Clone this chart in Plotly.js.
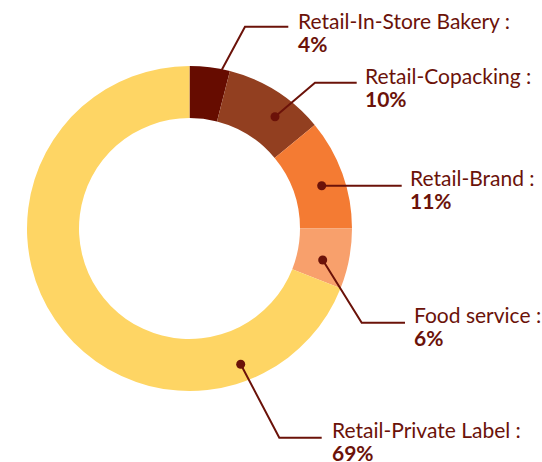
<!DOCTYPE html>
<html>
<head>
<meta charset="utf-8">
<script src="https://cdn.plot.ly/plotly-3.0.1.min.js"></script>
<style>html,body{margin:0;padding:0;background:#fff;}#chart{width:542px;height:462px;}</style>
</head>
<body>
<div id="chart"></div>
<script>
// Data
var categories = ["Retail-In-Store Bakery", "Retail-Copacking", "Retail-Brand", "Food service", "Retail-Private Label"];
var shares = [4, 10, 11, 6, 69];
var sliceColors = ["#660c00", "#923f20", "#f47b33", "#f8a06c", "#fed564"];

// Label layout (pixel positions of leader lines and texts)
var W = 542, H = 462;
var labelLayout = [
  {start: [221.7, 70], elbow: [245, 26.7], end: [288.3, 26.7], dot: false, tx: 297, b1: 28.3, b2: 51.7},
  {start: [275, 116.7], elbow: [315, 82.7], end: [356.7, 82.7], dot: true, tx: 364.3, b1: 83.3, b2: 106.7},
  {start: [321.7, 185.7], elbow: null, end: [401.7, 185.7], dot: true, tx: 409.3, b1: 185.7, b2: 209.1},
  {start: [322.7, 260], elbow: [361.7, 322.7], end: [405, 322.7], dot: true, tx: 412.7, b1: 322.7, b2: 346.1},
  {start: [240.7, 364.3], elbow: [279.3, 437.7], end: [321.7, 437.7], dot: true, tx: 330.7, b1: 437.7, b2: 461.1}
];
var inkColor = "#6b1209";
var fontFamily = "Lato, 'Open Sans', sans-serif";
var glyphSize = 21;     // visible glyph size
var lineBase = 18;      // Plotly line spacing = 1.3 * lineBase = 23.4px

function px(x) { return x / W; }
function py(y) { return 1 - y / H; }

var shapes = [];
var annotations = [];
labelLayout.forEach(function (L, i) {
  var pts = [L.start];
  if (L.elbow) pts.push(L.elbow);
  pts.push(L.end);
  var path = pts.map(function (p, k) { return (k ? "L" : "M") + px(p[0]) + "," + py(p[1]); }).join(" ");
  shapes.push({type: "path", xref: "paper", yref: "paper", path: path, line: {color: inkColor, width: 2}});
  if (L.dot) {
    var r = 4.5;
    shapes.push({type: "circle", xref: "paper", yref: "paper",
      x0: px(L.start[0] - r), x1: px(L.start[0] + r), y0: py(L.start[1] + r), y1: py(L.start[1] - r),
      fillcolor: inkColor, line: {width: 0}});
  }
  var asc = glyphSize * 0.987, desc = glyphSize * 0.213;
  var centre = ((L.b1 - asc) + (L.b2 + desc)) / 2;
  var sp = '<span style="font-size:' + glyphSize + 'px">';
  annotations.push({xref: "paper", yref: "paper", x: px(L.tx), y: py(centre),
    xanchor: "left", yanchor: "middle", align: "left", showarrow: false, borderpad: 0,
    text: sp + categories[i] + " :</span><br>" + sp + "<b>" + shares[i] + "%</b></span>",
    font: {family: fontFamily, size: lineBase, color: inkColor}});
});

var cx = 189.5, cy = 228.5, R = 162.5;
var trace = {
  type: "pie",
  labels: categories,
  values: shares,
  marker: {colors: sliceColors, line: {width: 0}},
  hole: 0.68,
  sort: false,
  direction: "clockwise",
  rotation: 0,
  textinfo: "none",
  hoverinfo: "none",
  showlegend: false,
  domain: {x: [px(cx - R), px(cx + R)], y: [py(cy + R), py(cy - R)]}
};

Plotly.newPlot("chart", [trace], {
  width: W, height: H,
  margin: {l: 0, r: 0, t: 0, b: 0},
  paper_bgcolor: "#fff",
  showlegend: false,
  shapes: shapes,
  annotations: annotations
}, {displayModeBar: false, staticPlot: true});
</script>
</body>
</html>
